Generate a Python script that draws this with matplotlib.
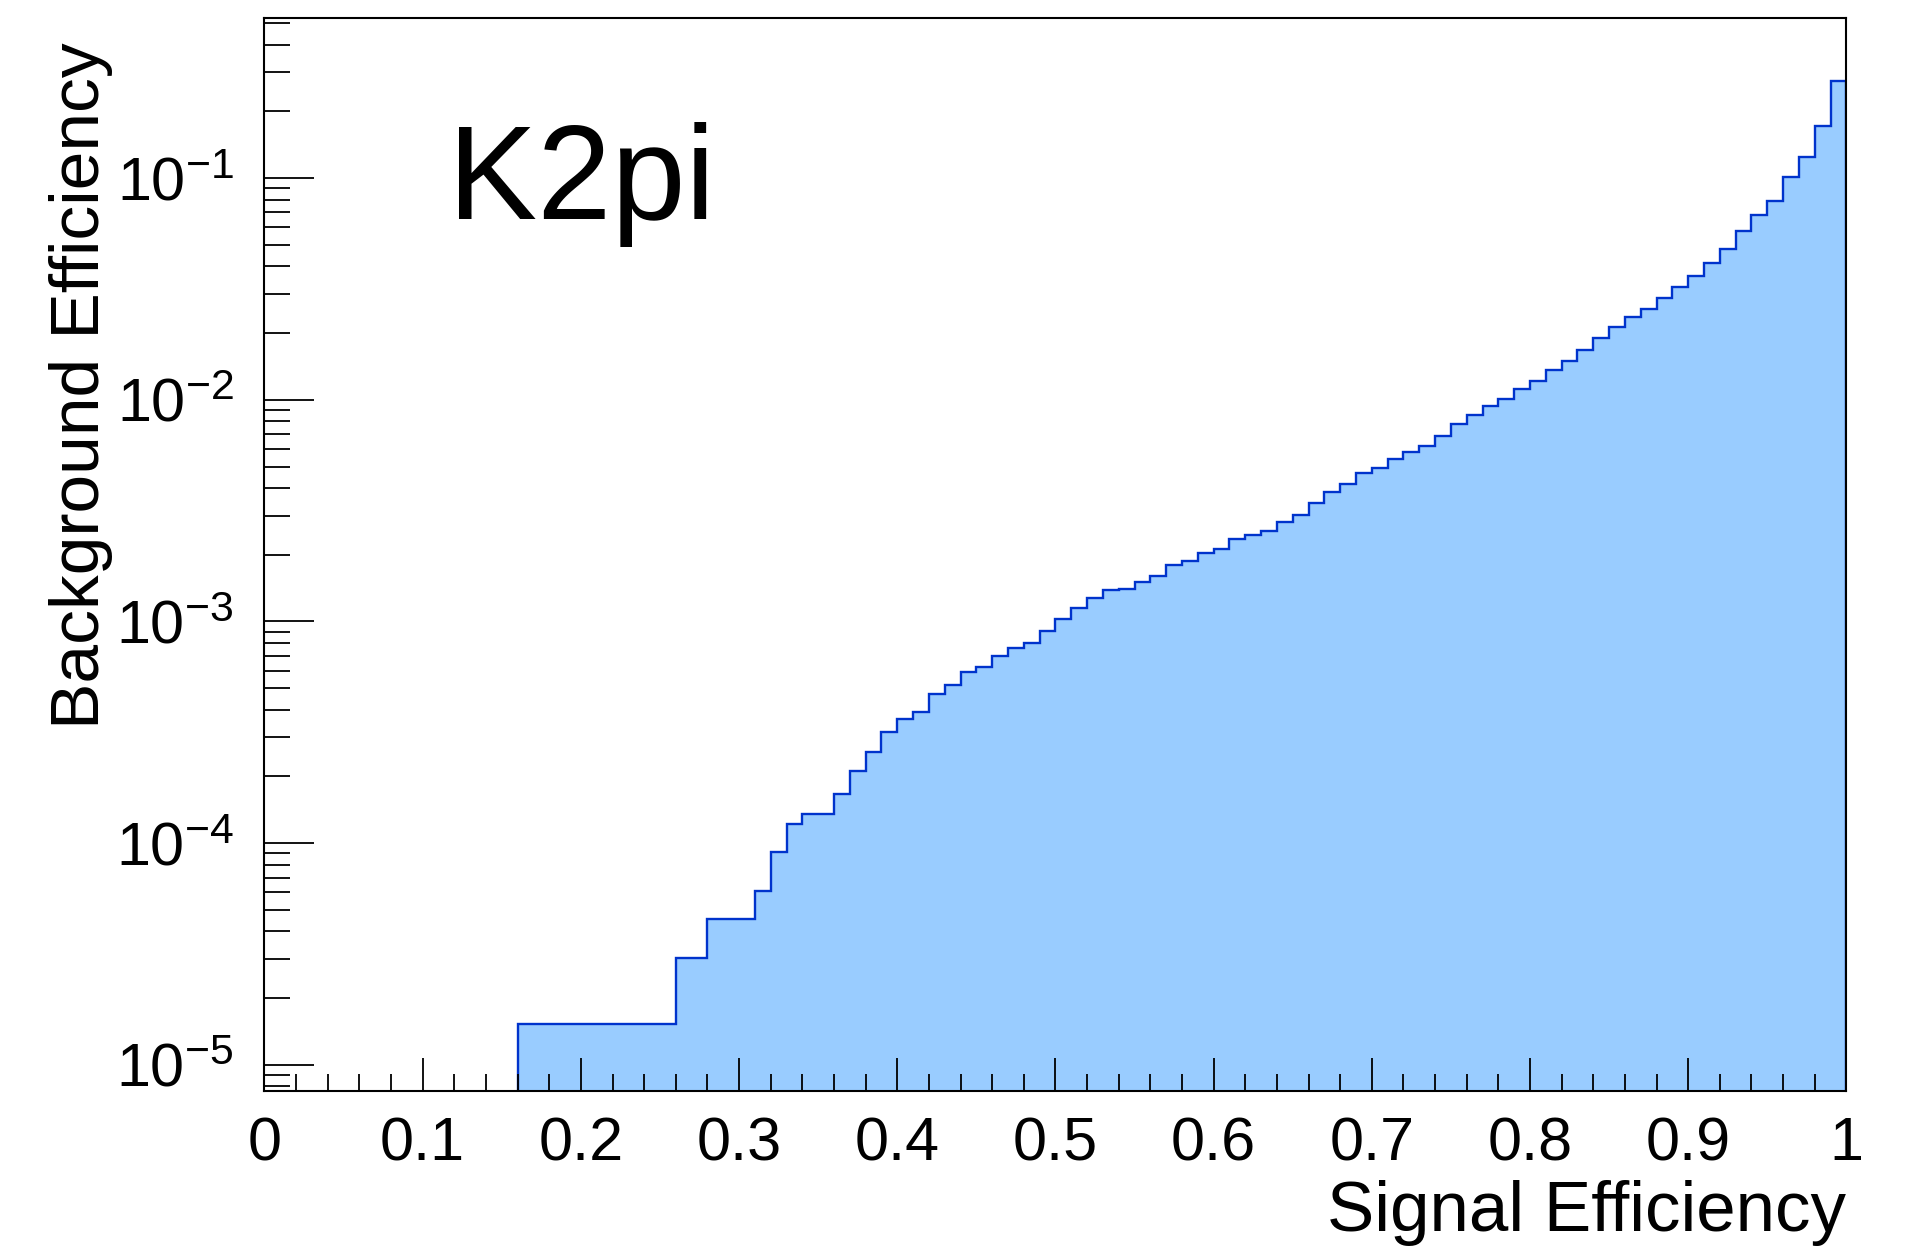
import numpy as np
import matplotlib
matplotlib.use("Agg")
import matplotlib.pyplot as plt
from matplotlib.ticker import LogLocator, MultipleLocator, FixedLocator, NullFormatter

plt.rcParams['font.family'] = ['Liberation Sans', 'DejaVu Sans']
plt.rcParams['mathtext.default'] = 'regular'

# background efficiency per signal-efficiency bin (100 bins of 0.01)
bin_edges = np.linspace(0.0, 1.0, 101)
bkg_eff = [0.0] * 16 + [1.53e-5] * 10 + [3.05e-5] * 2 + [4.57e-5] * 3 + [
    6.1e-5, 9.1e-5, 1.22e-4, 1.36e-4, 1.36e-4, 1.67e-4, 2.12e-4, 2.59e-4, 3.18e-4,
    3.63e-4, 3.91e-4, 4.71e-4, 5.18e-4, 5.90e-4, 6.24e-4, 6.97e-4, 7.58e-4, 8.01e-4, 9.1e-4,
    1.03e-3, 1.15e-3, 1.27e-3, 1.38e-3, 1.40e-3, 1.50e-3, 1.60e-3, 1.79e-3, 1.87e-3, 2.04e-3,
    2.13e-3, 2.36e-3, 2.45e-3, 2.55e-3, 2.80e-3, 3.02e-3, 3.41e-3, 3.83e-3, 4.17e-3, 4.65e-3,
    4.92e-3, 5.40e-3, 5.80e-3, 6.21e-3, 6.87e-3, 7.75e-3, 8.51e-3, 9.40e-3, 1.01e-2, 1.12e-2,
    1.22e-2, 1.36e-2, 1.49e-2, 1.67e-2, 1.90e-2, 2.12e-2, 2.36e-2, 2.56e-2, 2.88e-2, 3.24e-2,
    3.62e-2, 4.12e-2, 4.78e-2, 5.77e-2, 6.79e-2, 7.91e-2, 0.1007, 0.125, 0.171, 0.275,
]
bkg_eff = np.array(bkg_eff)

y_major = [1e-5, 1e-4, 1e-3, 1e-2, 1e-1]
y_labels = [r'$10^{-5}$', r'$10^{-4}$', r'$10^{-3}$', r'$10^{-2}$', r'$10^{-1}$']
x_major = np.arange(0, 1.01, 0.1)
x_labels = ['0', '0.1', '0.2', '0.3', '0.4', '0.5', '0.6', '0.7', '0.8', '0.9', '1']

fig = plt.figure(figsize=(19.11, 12.49), dpi=100)
ax = fig.add_axes([0.1384, 0.1265, 0.8278, 0.8591])

ax.set_yscale('log')
ax.stairs(bkg_eff, bin_edges, baseline=1e-7, fill=True, color='#99ccff', lw=0)
ax.stairs(bkg_eff, bin_edges, baseline=1e-7, color='#0033cc', lw=1.7)

ax.set_xlim(0, 1)
ax.set_ylim(7.63e-6, 0.527)

ax.xaxis.set_major_locator(FixedLocator(x_major))
ax.set_xticklabels(x_labels)
ax.xaxis.set_minor_locator(MultipleLocator(0.02))
ax.yaxis.set_major_locator(FixedLocator(y_major))
ax.set_yticklabels(y_labels)
ax.yaxis.set_minor_locator(LogLocator(base=10, subs=np.arange(2, 10), numticks=50))
ax.yaxis.set_minor_formatter(NullFormatter())

ax.tick_params(axis='both', which='both', direction='in', colors='black', width=1.3)
ax.tick_params(axis='x', which='major', length=24, pad=18, labelsize=44)
ax.tick_params(axis='x', which='minor', length=12)
ax.tick_params(axis='y', which='major', length=36, pad=22, labelsize=44)
ax.tick_params(axis='y', which='minor', length=19)
for s in ax.spines.values():
    s.set_linewidth(1.5)

ax.set_xlabel('Signal Efficiency', fontsize=51, ha='right', x=1.0)
ax.set_ylabel('Background Efficiency', fontsize=50, ha='right', y=1.0)
ax.xaxis.set_label_coords(1.0, -0.083)
ax.yaxis.set_label_coords(-0.0955, 0.977)

ax.text(0.1163, 0.8127, 'K2pi', transform=ax.transAxes, fontsize=96, va='baseline')

fig.savefig('out.png', dpi=100)
